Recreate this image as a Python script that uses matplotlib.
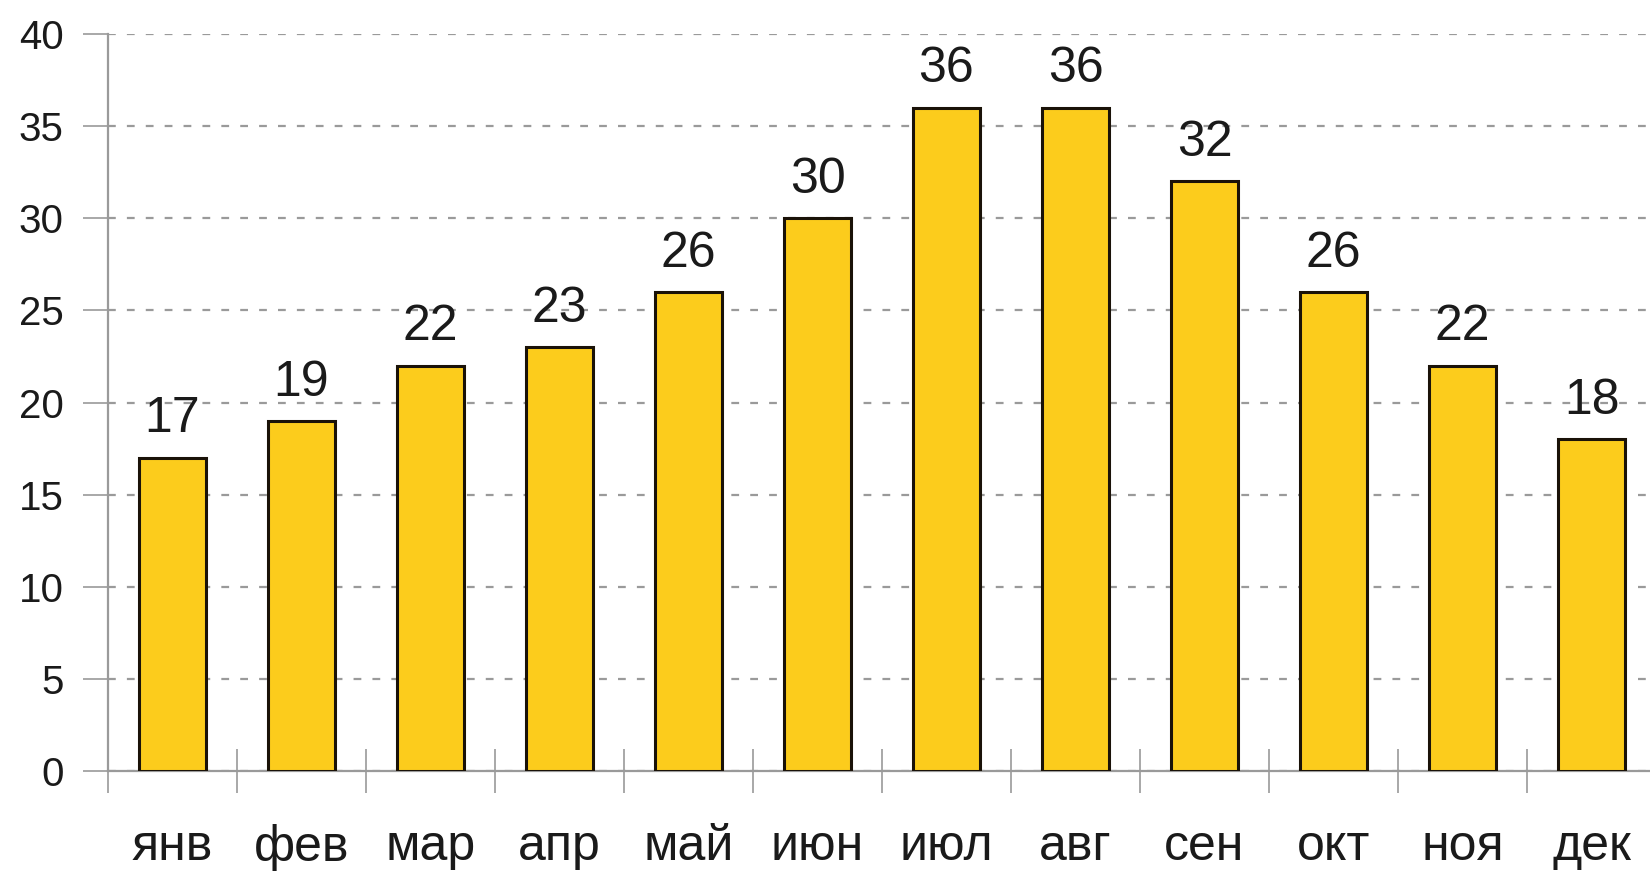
import matplotlib
matplotlib.use("Agg")
import matplotlib.pyplot as plt
import numpy as np

months = ["янв", "фев", "мар", "апр", "май", "июн",
          "июл", "авг", "сен", "окт", "ноя", "дек"]
values = [17, 19, 22, 23, 26, 30, 36, 36, 32, 26, 22, 18]
y_ticks = [0, 5, 10, 15, 20, 25, 30, 35, 40]

plt.rcParams["font.family"] = ["Liberation Sans", "DejaVu Sans"]

W, H = 1650, 882
fig = plt.figure(figsize=(W / 100, H / 100), dpi=100)
# axes spans 12 categories of ~129 px starting at x=108 (runs slightly past the right edge)
left, bottom, top = 108, 771, 34
ax = fig.add_axes([left / W, (H - bottom) / H, 12 * 129 / W, (bottom - top) / H])

x = np.arange(len(months))
ax.bar(x, values, width=0.52, color="#FCCC1C", edgecolor="#1a1208", linewidth=2.2, zorder=3)

for xi, v in zip(x, values):
    ax.annotate(str(v), (xi, v), xytext=(0, 11), textcoords="offset points",
                ha="center", va="bottom", fontsize=36, color="#1a1a1a")

ax.set_xlim(-0.5, 11.5)
ax.set_ylim(0, 40)
ax.set_yticks(y_ticks)
ax.set_yticklabels([str(t) for t in y_ticks], fontsize=29, color="#1a1a1a")
ax.yaxis.grid(True, linestyle=(0, (3.5, 5)), color="#9a9a9a", linewidth=1.6, zorder=0)
ax.tick_params(axis="y", length=18, width=1.2, color="#9a9a9a", pad=14)

# category labels at centres, tick marks at boundaries
ax.set_xticks(x)
ax.set_xticklabels(months, fontsize=36, color="#1a1a1a")
ax.tick_params(axis="x", which="major", length=0, pad=38)
ax.set_xticks(np.arange(-0.5, 12, 1), minor=True)
ax.tick_params(axis="x", which="minor", direction="inout", length=32, width=1.2, color="#9a9a9a")

for s in ["top", "right"]:
    ax.spines[s].set_visible(False)
for s in ["left", "bottom"]:
    ax.spines[s].set_color("#9a9a9a")
    ax.spines[s].set_linewidth(1.6)

fig.savefig("out.png", dpi=100, facecolor="white")
